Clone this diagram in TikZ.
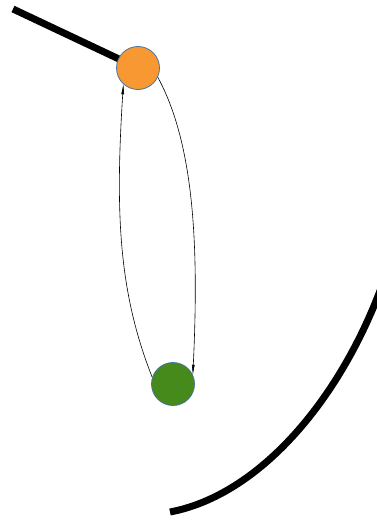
\documentclass[tikz,border=0pt]{standalone}
\usetikzlibrary{calc}
\usetikzlibrary{arrows.meta}

\definecolor{ballorange}{HTML}{F79833}
\definecolor{ballgreen}{HTML}{478A1C}
\definecolor{ballrim}{HTML}{41719C}

\tikzset{
    ball/.style={circle, draw=ballrim, line width=0.75pt, minimum size=43pt, inner sep=0pt},
    rope/.style={line width=7pt, line cap=butt},
    swing/.style={line width=0.6pt, -{Triangle[length=10pt, width=2.6pt]}},
}

\begin{document}
\begin{tikzpicture}[x=1pt, y=-1pt]

    \useasboundingbox (0, 0) rectangle (377, 522);
    \clip (0, 0) rectangle (377, 522);

    \coordinate (P) at (138, 68);
    \coordinate (Q) at (173, 384);
    \coordinate (R) at (13, 9);
    \coordinate (C1) at (170, 512);
    \coordinate (C2) at (384, 280);

    \draw[rope] (R) -- (P);
    \draw[rope] (C1) .. controls (260, 495) and (342, 398) .. (C2);

    \node[ball, fill=ballorange] (top) at (P) {};
    \node[ball, fill=ballgreen] (bottom) at (Q) {};

    \draw[swing] (top.-25) .. controls (194, 144) and (199, 245) .. (bottom.25);
    \draw[swing] (bottom.162) .. controls (119, 293) and (115, 215) .. (top.228);

\end{tikzpicture}
\end{document}
